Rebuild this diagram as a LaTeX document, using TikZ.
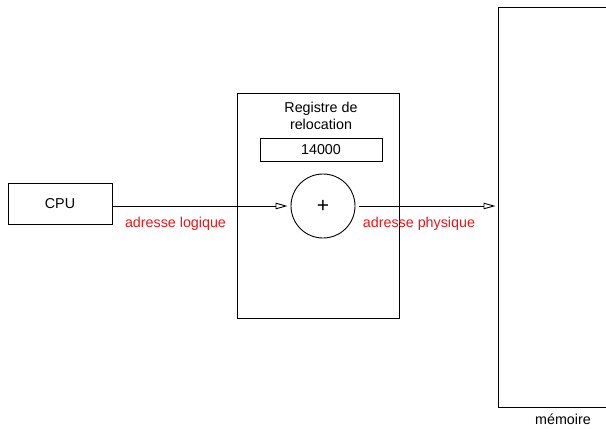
\documentclass[tikz,border=0pt]{standalone}
\usepackage{fontspec}
\setmainfont{Liberation Sans}
\usetikzlibrary{arrows.meta}
\definecolor{labelred}{RGB}{228,22,26}
\begin{document}
\begin{tikzpicture}[x=1pt,y=-1pt,
  every node/.style={font=\fontsize{14.3}{17}\selectfont},
  box/.style={draw,line width=0.9pt,inner sep=0pt},
  flow/.style={line width=0.9pt,-{Triangle[open,length=12pt,width=6.5pt]},shorten >=3pt},
  lbl/.style={text=labelred}]
\useasboundingbox (0,0) rectangle (606,429);
\clip (0,0) rectangle (606,429);
% CPU
\node[box,minimum width=104pt,minimum height=41pt] (cpu) at (60,203.5) {CPU};
% relocation unit
\node[box,minimum width=162pt,minimum height=225pt] (reloc) at (318.5,205.5) {};
\node[align=center,inner sep=0pt] (title) at (321,116) {Registre de\\relocation};
\node[box,minimum width=122pt,minimum height=23pt] (reg) at (321,149.5) {14000};
\node[draw,circle,line width=0.9pt,minimum size=64pt,inner sep=0pt] (add) at (323,206) {\fontsize{21}{21}\selectfont +};
% memory
\draw[line width=0.9pt] (620,7.5) -- (498.5,7.5) -- (498.5,407.5) -- (620,407.5);
\coordinate (mem) at (498.5,206);
\node (memlbl) at (563,419) {mémoire};
% address paths
\draw[flow] (cpu.east |- add.west) -- (add.west);
\draw[flow,shorten <=4pt] (add.east) -- (mem);
\node[lbl] (logi) at (175.5,224) {adresse logique};
\node[lbl] (phys) at (419,224) {adresse physique};
\end{tikzpicture}
\end{document}
